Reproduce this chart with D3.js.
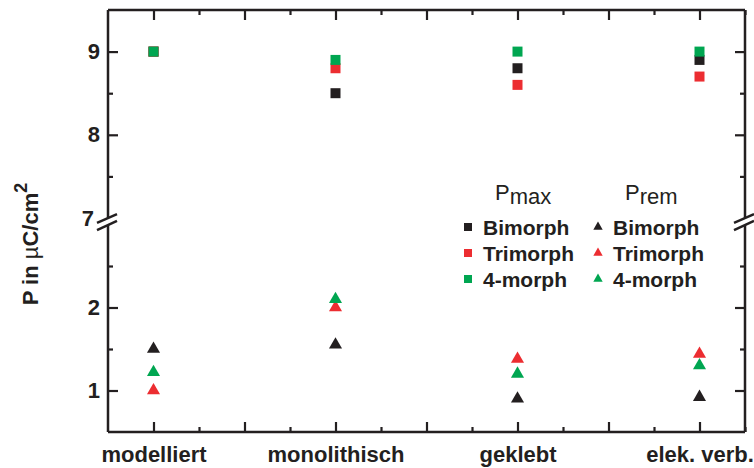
<!DOCTYPE html>
<html>
<head>
<meta charset="utf-8">
<script src="https://cdn.jsdelivr.net/npm/d3@7"></script>
<style>
  html, body { margin: 0; padding: 0; background: #fff; }
  svg { display: block; font-family: "Liberation Sans", Arial, Helvetica, sans-serif; }
</style>
</head>
<body>
<svg id="chart" width="754" height="468"></svg>
<script>
// Categories along the x axis
const categories = ["modelliert", "monolithisch", "geklebt", "elek. verb."];
const seriesNames = ["Bimorph", "Trimorph", "4-morph"];

// Maximum polarisation P_max (µC/cm²)
const pmaxBimorph  = [9.0, 8.5, 8.8, 8.9];
const pmaxTrimorph = [9.0, 8.8, 8.6, 8.7];
const pmax4morph   = [9.0, 8.9, 9.0, 9.0];

// Remanent polarisation P_rem (µC/cm²)
const premBimorph  = [1.5, 1.55, 0.9, 0.92];
const premTrimorph = [1.0, 2.0, 1.38, 1.44];
const prem4morph   = [1.22, 2.1, 1.2, 1.3];

// Axis ticks
const upperMajor = [8, 9];
const upperMinor = [7.5, 8.5];
const lowerMajor = [1, 2];
const lowerMinor = [1.5, 2.5];
const breakLabel = 7;

const colors = ["#231f20", "#ec2d31", "#00a651"];

const svg = d3.select("#chart");
const L = 108, R = 745, T = 10, B = 432;
const breakY = 218;

const x = d3.scaleLinear().domain([-0.25, 3.25]).range([L, R]);
const yUpper = d3.scaleLinear().domain([7, 9.5]).range([breakY, T]);
const yLower = d3.scaleLinear().domain([0.5, 2.5]).range([B, 266]);
const yOf = v => v >= 5 ? yUpper(v) : yLower(v);

const axisColor = "#231f20";
const g = svg.append("g");

function styleAxis(sel) {
  sel.select(".domain").remove();
  sel.selectAll("line").attr("stroke", axisColor).attr("stroke-width", 2.2);
  sel.selectAll("text").attr("fill", axisColor)
     .attr("font-size", 22).attr("font-weight", "bold");
}

// x positions for ticks: major every half category, minor every quarter
const xMajor = d3.range(0, 3.01, 0.5);
const xMinor = d3.range(0.25, 3.3, 0.5);

// bottom axis
g.append("g").attr("transform", `translate(0,${B})`)
  .call(d3.axisBottom(x).tickValues(xMajor).tickSize(-10).tickFormat(""))
  .call(styleAxis);
g.append("g").attr("transform", `translate(0,${B})`)
  .call(d3.axisBottom(x).tickValues(xMinor).tickSize(-5).tickFormat(""))
  .call(styleAxis);
g.append("g").attr("transform", `translate(0,${B})`)
  .call(d3.axisBottom(x).tickValues([0, 1, 2, 3]).tickSize(0).tickPadding(14)
        .tickFormat(i => categories[i]))
  .call(styleAxis);

// top axis
g.append("g").attr("transform", `translate(0,${T})`)
  .call(d3.axisTop(x).tickValues(xMajor).tickSize(-10).tickFormat(""))
  .call(styleAxis);
g.append("g").attr("transform", `translate(0,${T})`)
  .call(d3.axisTop(x).tickValues(xMinor).tickSize(-5).tickFormat(""))
  .call(styleAxis);

// left axis (upper and lower segments)
[[yUpper, upperMajor, upperMinor], [yLower, lowerMajor, lowerMinor]].forEach(([sc, maj, min]) => {
  g.append("g").attr("transform", `translate(${L},0)`)
    .call(d3.axisLeft(sc).tickValues(maj).tickSize(-10).tickPadding(8).tickFormat(d3.format("d")))
    .call(styleAxis);
  g.append("g").attr("transform", `translate(${L},0)`)
    .call(d3.axisLeft(sc).tickValues(min).tickSize(-5).tickFormat(""))
    .call(styleAxis);
  g.append("g").attr("transform", `translate(${R},0)`)
    .call(d3.axisRight(sc).tickValues(maj).tickSize(-10).tickFormat(""))
    .call(styleAxis);
  g.append("g").attr("transform", `translate(${R},0)`)
    .call(d3.axisRight(sc).tickValues(min).tickSize(-5).tickFormat(""))
    .call(styleAxis);
});
// label at the break
g.append("g").attr("transform", `translate(${L},0)`)
  .call(d3.axisLeft(yUpper).tickValues([breakLabel]).tickSize(0).tickPadding(14).tickFormat(d3.format("d")))
  .call(styleAxis);

// frame lines
const frame = g.append("g").attr("stroke", axisColor).attr("stroke-width", 2.5).attr("fill", "none");
frame.append("line").attr("x1", L).attr("x2", R).attr("y1", B).attr("y2", B);
frame.append("line").attr("x1", L).attr("x2", R).attr("y1", T).attr("y2", T);
[L, R].forEach(ax => {
  frame.append("line").attr("x1", ax).attr("x2", ax).attr("y1", T).attr("y2", B);
});

// axis break marks
[L, R].forEach(ax => {
  const p1 = [[ax - 11, breakY + 4.8], [ax + 9, breakY - 3.9]];
  const p2 = [[ax - 11, breakY + 12.1], [ax + 9, breakY + 2.8]];
  g.append("path")
    .attr("d", `M${p1[0]}L${p1[1]}L${p2[1]}L${p2[0]}Z`)
    .attr("fill", "#fff").attr("stroke", "none");
  [p1, p2].forEach(p => {
    g.append("line").attr("x1", p[0][0]).attr("y1", p[0][1])
      .attr("x2", p[1][0]).attr("y2", p[1][1])
      .attr("stroke", axisColor).attr("stroke-width", 2.5);
  });
});

// y axis title
const yt = svg.append("text")
  .attr("transform", `translate(38,244) rotate(-90)`)
  .attr("text-anchor", "middle")
  .attr("font-size", 22).attr("font-weight", "bold").attr("fill", axisColor);
yt.append("tspan").text("P in ");
yt.append("tspan").attr("font-weight", "normal").text("µ");
yt.append("tspan").text("C/cm");
yt.append("tspan").attr("font-size", 18).attr("dy", -11).text("2");

// data markers
const square = d3.symbol().type(d3.symbolSquare).size(100);
const tri = d3.symbol().type(d3.symbolTriangle).size(74);
const pmaxSeries = [pmaxBimorph, pmaxTrimorph, pmax4morph];
const premSeries = [premBimorph, premTrimorph, prem4morph];

pmaxSeries.forEach((vals, s) => {
  svg.append("g").selectAll("path").data(vals).join("path")
    .attr("d", square)
    .attr("transform", (v, i) => `translate(${x(i)},${yOf(v)})`)
    .attr("fill", colors[s]);
});
premSeries.forEach((vals, s) => {
  svg.append("g").selectAll("path").data(vals).join("path")
    .attr("d", tri)
    .attr("transform", (v, i) => `translate(${x(i)},${yOf(v)})`)
    .attr("fill", colors[s]);
});

// legend
const leg = svg.append("g").attr("fill", axisColor);
function header(xp, sub) {
  const t = leg.append("text").attr("x", xp).attr("y", 200)
    .attr("font-size", 22);
  t.append("tspan").text("P");
  t.append("tspan").attr("dy", 4).attr("font-size", 22).text(sub);
}
header(495, "max");
header(625, "rem");

const legSquare = d3.symbol().type(d3.symbolSquare).size(64);
const legTri = d3.symbol().type(d3.symbolTriangle).size(38);
seriesNames.forEach((name, s) => {
  const cy = 227 + s * 26;
  leg.append("path").attr("d", legSquare)
    .attr("transform", `translate(468,${cy})`).attr("fill", colors[s]);
  leg.append("text").attr("x", 483).attr("y", cy + 8)
    .attr("font-size", 21).attr("font-weight", "bold").text(name);
  leg.append("path").attr("d", legTri)
    .attr("transform", `translate(598,${cy})`).attr("fill", colors[s]);
  leg.append("text").attr("x", 613).attr("y", cy + 8)
    .attr("font-size", 21).attr("font-weight", "bold").text(name);
});
</script>
</body>
</html>
